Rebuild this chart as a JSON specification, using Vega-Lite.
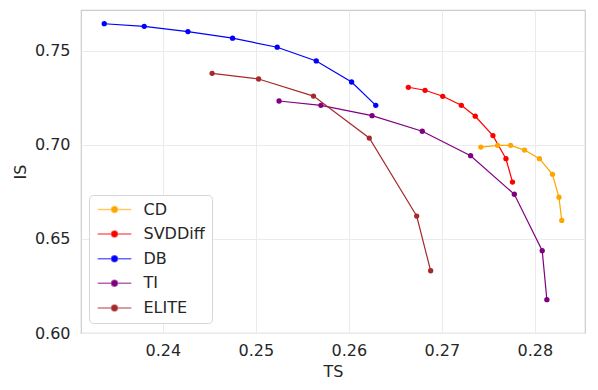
{
  "$schema": "https://vega.github.io/schema/vega-lite/v6.json",
  "width": 504,
  "height": 323,
  "autosize": "none",
  "padding": {"left": 81, "top": 10, "right": 13, "bottom": 57},
  "background": "white",
  "config": {
    "font": "DejaVu Sans",
    "view": {"stroke": "#cccccc", "strokeWidth": 1.2},
    "axis": {
      "domain": false,
      "ticks": false,
      "gridColor": "#ebebeb",
      "gridWidth": 1,
      "labelFont": "DejaVu Sans",
      "labelFontSize": 16,
      "labelColor": "#262626",
      "titleFont": "DejaVu Sans",
      "titleFontSize": 16,
      "titleFontWeight": "normal",
      "titleColor": "#262626"
    }
  },
  "data": {
    "values": [
      {"method": "CD", "i": 0, "TS": 0.2742, "IS": 0.6989},
      {"method": "CD", "i": 1, "TS": 0.2760, "IS": 0.6998},
      {"method": "CD", "i": 2, "TS": 0.2774, "IS": 0.6998},
      {"method": "CD", "i": 3, "TS": 0.2789, "IS": 0.6973},
      {"method": "CD", "i": 4, "TS": 0.2805, "IS": 0.6927},
      {"method": "CD", "i": 5, "TS": 0.2819, "IS": 0.6844},
      {"method": "CD", "i": 6, "TS": 0.2826, "IS": 0.6722},
      {"method": "CD", "i": 7, "TS": 0.2829, "IS": 0.6599},
      {"method": "SVDDiff", "i": 0, "TS": 0.2664, "IS": 0.7307},
      {"method": "SVDDiff", "i": 1, "TS": 0.2682, "IS": 0.7291},
      {"method": "SVDDiff", "i": 2, "TS": 0.2701, "IS": 0.7259},
      {"method": "SVDDiff", "i": 3, "TS": 0.2721, "IS": 0.7211},
      {"method": "SVDDiff", "i": 4, "TS": 0.2736, "IS": 0.7153},
      {"method": "SVDDiff", "i": 5, "TS": 0.2755, "IS": 0.7050},
      {"method": "SVDDiff", "i": 6, "TS": 0.2769, "IS": 0.6927},
      {"method": "SVDDiff", "i": 7, "TS": 0.2776, "IS": 0.6803},
      {"method": "DB", "i": 0, "TS": 0.2337, "IS": 0.7645},
      {"method": "DB", "i": 1, "TS": 0.2380, "IS": 0.7631},
      {"method": "DB", "i": 2, "TS": 0.2427, "IS": 0.7603},
      {"method": "DB", "i": 3, "TS": 0.2475, "IS": 0.7568},
      {"method": "DB", "i": 4, "TS": 0.2523, "IS": 0.7520},
      {"method": "DB", "i": 5, "TS": 0.2565, "IS": 0.7447},
      {"method": "DB", "i": 6, "TS": 0.2603, "IS": 0.7335},
      {"method": "DB", "i": 7, "TS": 0.2629, "IS": 0.7211},
      {"method": "TI", "i": 0, "TS": 0.2525, "IS": 0.7234},
      {"method": "TI", "i": 1, "TS": 0.2570, "IS": 0.7211},
      {"method": "TI", "i": 2, "TS": 0.2625, "IS": 0.7156},
      {"method": "TI", "i": 3, "TS": 0.2679, "IS": 0.7073},
      {"method": "TI", "i": 4, "TS": 0.2731, "IS": 0.6943},
      {"method": "TI", "i": 5, "TS": 0.2778, "IS": 0.6738},
      {"method": "TI", "i": 6, "TS": 0.2808, "IS": 0.6438},
      {"method": "TI", "i": 7, "TS": 0.2813, "IS": 0.6177},
      {"method": "ELITE", "i": 0, "TS": 0.2453, "IS": 0.7381},
      {"method": "ELITE", "i": 1, "TS": 0.2503, "IS": 0.7351},
      {"method": "ELITE", "i": 2, "TS": 0.2562, "IS": 0.7260},
      {"method": "ELITE", "i": 3, "TS": 0.2622, "IS": 0.7037},
      {"method": "ELITE", "i": 4, "TS": 0.2673, "IS": 0.6622},
      {"method": "ELITE", "i": 5, "TS": 0.2688, "IS": 0.6331}
    ]
  },
  "mark": {
    "type": "line",
    "strokeWidth": 1.2,
    "point": {"filled": true, "size": 28, "opacity": 1}
  },
  "encoding": {
    "x": {
      "field": "TS",
      "type": "quantitative",
      "title": "TS",
      "scale": {"domain": [0.2312, 0.2854], "nice": false, "zero": false},
      "axis": {"values": [0.24, 0.25, 0.26, 0.27, 0.28], "format": ".2f", "labelPadding": 9, "titlePadding": 5}
    },
    "y": {
      "field": "IS",
      "type": "quantitative",
      "title": "IS",
      "scale": {"domain": [0.60, 0.7718], "nice": false, "zero": false},
      "axis": {"values": [0.60, 0.65, 0.70, 0.75], "format": ".2f", "labelPadding": 11, "titlePadding": 6}
    },
    "order": {"field": "i", "type": "quantitative"},
    "color": {
      "field": "method",
      "type": "nominal",
      "scale": {
        "domain": ["CD", "SVDDiff", "DB", "TI", "ELITE"],
        "range": ["#ffa500", "#ff0000", "#0000ff", "#800080", "#a52a2a"]
      },
      "legend": {
        "title": null,
        "orient": "none",
        "legendX": 8,
        "legendY": 185,
        "padding": 6.5,
        "strokeColor": "#d6d6d6",
        "fillColor": "white",
        "cornerRadius": 4,
        "labelFontSize": 16,
        "labelColor": "#262626",
        "labelFont": "DejaVu Sans",
        "symbolType": "M-2.8,0L2.8,0M-0.5,0A0.5,0.5,0,1,1,0.5,0A0.5,0.5,0,1,1,-0.5,0Z",
        "symbolSize": 144,
        "symbolStrokeWidth": 1.5,
        "symbolOffset": 11,
        "labelOffset": 21,
        "rowPadding": 8.6,
        "encode": {
          "symbols": {
            "update": {
              "fill": {"scale": "color", "field": "value"},
              "stroke": {"scale": "color", "field": "value"},
              "strokeOpacity": {"value": 0.6},
              "fillOpacity": {"value": 1}
            }
          }
        }
      }
    }
  }
}
